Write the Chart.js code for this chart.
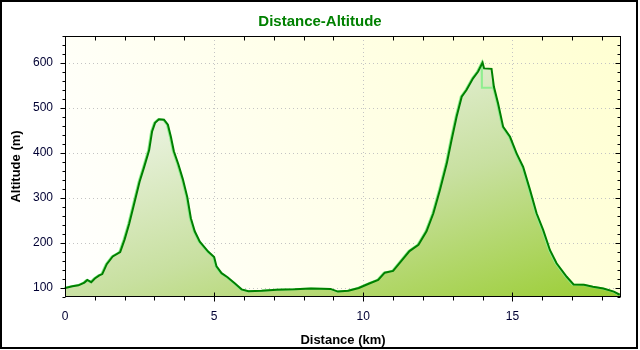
<!DOCTYPE html>
<html>
<head>
<meta charset="utf-8">
<script src="https://cdn.jsdelivr.net/npm/chart.js@4.4.1/dist/chart.umd.min.js"></script>
<style>
  html, body { margin: 0; padding: 0; background: #fff; }
  canvas { display: block; }
</style>
</head>
<body>
<canvas id="profile" width="640" height="350"></canvas>
<script>
// track profile
const distance = [
  0.00, 0.25, 0.45, 0.65, 0.75, 0.88, 1.00, 1.15, 1.25, 1.40, 1.60, 1.85, 2.00, 2.15, 2.30, 2.50,
  2.65, 2.82, 2.92, 3.02, 3.15, 3.32, 3.45, 3.55, 3.65, 3.80, 3.95, 4.10, 4.22, 4.35, 4.52, 4.80,
  5.00, 5.08, 5.25, 5.45, 5.70, 5.92, 6.15, 6.60, 7.10, 7.70, 8.25, 8.90, 9.15, 9.50, 9.85, 10.20,
  10.50, 10.72, 11.00, 11.25, 11.55, 11.85, 12.12, 12.35, 12.57, 12.80, 12.96, 13.13, 13.30, 13.46,
  13.68, 13.85, 14.00, 14.05, 14.30, 14.38, 14.52, 14.69, 14.92, 15.14, 15.36, 15.59, 15.81, 16.03,
  16.26, 16.48, 16.82, 17.05, 17.40, 17.70, 18.05, 18.40, 18.60
];
const altitude = [
  100, 104, 106, 112, 118, 113, 121, 128, 131, 153, 170, 180, 208, 242, 282, 336,
  368, 406, 448, 467, 475, 474, 463, 436, 404, 375, 342, 302, 255, 226, 203, 181,
  169, 148, 133, 124, 110, 97, 93, 94, 96, 97, 99, 98, 92, 94, 100, 110,
  118, 134, 138, 158, 182, 196, 226, 266, 318, 377, 429, 481, 525, 540,
  566, 581, 601, 588, 587, 547, 510, 458, 436, 399, 369, 318, 266, 229,
  184, 155, 125, 108, 107, 103, 99, 92, 85
];
// the light edge line cuts under the summit plateau
const notchDistance = [14.00, 14.01, 14.37];
const notchAltitude = [601, 545, 545];

const xTicks = [0, 5, 10, 15];
const yTicks = [100, 200, 300, 400, 500, 600];

Chart.defaults.font.family = '"Liberation Sans", Arial, sans-serif';

const track = distance.map((d, i) => ({ x: d, y: altitude[i] }));
const notch = notchDistance.map((d, i) => ({ x: d, y: notchAltitude[i] }));
const edge = [
  ...track.filter(p => p.x < notchDistance[0]),
  ...notch,
  ...track.filter(p => p.x > notchDistance[notchDistance.length - 1])
];

function areaGradient(context) {
  const chart = context.chart;
  const a = chart.chartArea;
  if (!a) return '#c8e0a0';
  const span = (a.width + 3 * a.height) / 10;
  const g = chart.ctx.createLinearGradient(a.left, a.top, a.left + span, a.top + 3 * span);
  g.addColorStop(0, '#ffffff');
  g.addColorStop(0.3, '#e6f0d8');
  g.addColorStop(0.6, '#c8e0a0');
  g.addColorStop(1, '#9acd32');
  return g;
}

// white page + pale yellow plot background
const plotBackground = {
  id: 'plotBackground',
  beforeDraw(chart) {
    const { ctx, chartArea: a } = chart;
    ctx.save();
    ctx.fillStyle = '#fff';
    ctx.fillRect(0, 0, chart.width, chart.height);
    const g = ctx.createLinearGradient(a.left, a.bottom, a.right, a.top);
    g.addColorStop(0, '#ffffff');
    g.addColorStop(1, '#ffffd2');
    ctx.fillStyle = g;
    ctx.fillRect(a.left, a.top, a.width, a.height);
    ctx.restore();
  }
};

// nudge the light edge line a pixel left of the dark one
const edgeShift = {
  id: 'edgeShift',
  beforeDatasetDraw(chart, args) {
    if (args.index === 1) { chart.ctx.save(); chart.ctx.translate(-1, 0); }
  },
  afterDatasetDraw(chart, args) {
    if (args.index === 1) chart.ctx.restore();
  }
};

// plot frame with minor ticks on all four sides, outer border
const frame = {
  id: 'frame',
  afterDatasetsDraw(chart) {
    const { ctx, chartArea: a, scales: { x, y } } = chart;
    const L = Math.round(a.left) + 0.5, R = Math.round(a.right) - 0.5;
    const T = Math.round(a.top) + 0.5, B = Math.round(a.bottom) - 0.5;
    ctx.save();
    ctx.strokeStyle = '#000';
    ctx.lineWidth = 1;
    ctx.beginPath();
    for (let v = 80; v <= 660; v += 20) {
      const py = Math.round(y.getPixelForValue(v)) + 0.5;
      const len = v % 100 === 0 ? 5 : 3;
      ctx.moveTo(L - len, py); ctx.lineTo(L, py);
      ctx.moveTo(R, py); ctx.lineTo(R - len, py);
    }
    for (let k = 1; k <= 18; k++) {
      const px = Math.round(x.getPixelForValue(k)) + 0.5;
      if (k % 5 === 0) {
        ctx.moveTo(px, B - 4); ctx.lineTo(px, B + 5);
      } else {
        ctx.moveTo(px, B); ctx.lineTo(px, B + 4);
        ctx.moveTo(px, T); ctx.lineTo(px, T + 4);
      }
    }
    ctx.stroke();
    ctx.strokeRect(L, T, R - L, B - T);
    ctx.lineWidth = 2;
    ctx.strokeRect(1, 1, chart.width - 4, chart.height - 3);
    ctx.restore();
  }
};

new Chart(document.getElementById('profile'), {
  type: 'line',
  data: {
    datasets: [
      { label: 'Altitude', data: track, borderColor: '#008000', borderWidth: 2,
        pointRadius: 0, fill: false, order: 0 },
      { label: 'Edge', data: edge, borderColor: '#90ee90', borderWidth: 2,
        pointRadius: 0, fill: false, order: 1 },
      { label: 'Area', data: track, borderWidth: 0, borderColor: 'rgba(0,0,0,0)',
        backgroundColor: areaGradient, pointRadius: 0, fill: 'start', order: 2 }
    ]
  },
  options: {
    responsive: false,
    animation: false,
    events: [],
    layout: { padding: { left: 19, right: 19, top: 0, bottom: 0 } },
    plugins: {
      legend: { display: false },
      tooltip: { enabled: false },
      title: {
        display: true, text: 'Distance-Altitude', color: '#008000',
        font: { size: 15, weight: 'bold' }, padding: { top: 13, bottom: 5 }
      }
    },
    scales: {
      x: {
        type: 'linear', min: 0, max: 18.64,
        afterBuildTicks: s => { s.ticks = xTicks.map(v => ({ value: v })); },
        afterFit: s => { s.height = 53; },
        grid: { color: '#c4c4c4', drawTicks: false },
        border: { display: false, dash: [1, 3] },
        ticks: { padding: 12, color: '#000033', font: { size: 12 } },
        title: { display: true, text: 'Distance (km)', color: '#000',
          font: { size: 13, weight: 'bold' }, padding: { top: 0, bottom: 2 } }
      },
      y: {
        min: 80, max: 660,
        afterBuildTicks: s => { s.ticks = yTicks.map(v => ({ value: v })); },
        afterFit: s => { s.width = 46; },
        grid: { color: '#c4c4c4', drawTicks: false },
        border: { display: false, dash: [1, 3] },
        ticks: { padding: 12, color: '#000033', font: { size: 12 } },
        title: { display: true, text: 'Altitude (m)', color: '#000',
          font: { size: 13, weight: 'bold' }, padding: { top: -10.5, bottom: 0 } }
      }
    }
  },
  plugins: [plotBackground, edgeShift, frame]
});
</script>
</body>
</html>
